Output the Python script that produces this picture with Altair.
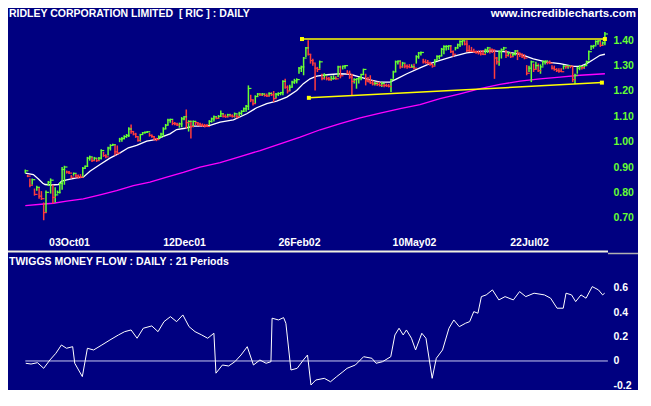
import altair as alt
import pandas as pd

# ---------------- data ----------------
title_text = "RIDLEY CORPORATION LIMITED\u00a0\u00a0[ RIC ] : DAILY"
site_text = "www.incrediblecharts.com"
mf_title = "TWIGGS MONEY FLOW : DAILY : 21 Periods"

date_tick_idx = [19, 69, 119, 169, 219]
date_tick_labels = ["03Oct01", "12Dec01", "26Feb02", "10May02", "22Jul02"]
price_ticks = [0.7, 0.8, 0.9, 1.0, 1.1, 1.2, 1.3, 1.4]
mf_ticks = [-0.2, 0, 0.2, 0.4, 0.6]

high = [
    .890, .870, .855, .855, .815, .826, .820, .805, .760, .807,
    .845, .855, .830, .820, .807, .840, .900, .905, .886, .884,
    .868, .878, .872, .870, .872, .900, .906, .940, .945, .940,
    .940, .935, .940, .970, .960, .950, .980, .990, .992, .990,
    .985, 1.015, 1.018, 1.025, 1.030, 1.057, 1.068, 1.040, 1.035, 1.018,
    1.031, 1.038, 1.040, 1.042, 1.035, 1.028, 1.022, 1.015, 1.025, 1.035,
    1.057, 1.070, 1.090, 1.090, 1.085, 1.078, 1.075, 1.075, 1.097, 1.100,
    1.127, 1.084, 1.084, 1.084, 1.082, 1.078, 1.075, 1.072, 1.070, 1.070,
    1.085, 1.095, 1.103, 1.100, 1.105, 1.123, 1.112, 1.108, 1.110, 1.110,
    1.108, 1.115, 1.108, 1.118, 1.124, 1.135, 1.145, 1.222, 1.185, 1.165,
    1.183, 1.192, 1.192, 1.192, 1.190, 1.190, 1.195, 1.195, 1.200, 1.192,
    1.195, 1.196, 1.242, 1.248, 1.222, 1.225, 1.240, 1.248, 1.250, 1.295,
    1.300, 1.334, 1.374, 1.400, 1.345, 1.327, 1.308, 1.295, 1.320, 1.268,
    1.270, 1.258, 1.255, 1.260, 1.262, 1.258, 1.300, 1.300, 1.300, 1.302,
    1.282, 1.280, 1.268, 1.250, 1.250, 1.255, 1.268, 1.288, 1.268, 1.255,
    1.262, 1.242, 1.235, 1.236, 1.235, 1.236, 1.228, 1.229, 1.228, 1.248,
    1.280, 1.320, 1.320, 1.320, 1.315, 1.308, 1.305, 1.306, 1.305, 1.307,
    1.341, 1.354, 1.356, 1.327, 1.325, 1.322, 1.315, 1.308, 1.325, 1.341,
    1.341, 1.370, 1.380, 1.380, 1.380, 1.380, 1.360, 1.374, 1.387, 1.400,
    1.400, 1.398, 1.400, 1.380, 1.374, 1.367, 1.360, 1.360, 1.360, 1.362,
    1.367, 1.374, 1.367, 1.364, 1.360, 1.334, 1.360, 1.368, 1.374, 1.362,
    1.355, 1.354, 1.350, 1.362, 1.362, 1.350, 1.348, 1.345, 1.302, 1.300,
    1.320, 1.308, 1.315, 1.308, 1.305, 1.320, 1.320, 1.320, 1.320, 1.302,
    1.300, 1.290, 1.290, 1.290, 1.302, 1.300, 1.302, 1.302, 1.295, 1.268,
    1.295, 1.302, 1.300, 1.302, 1.320, 1.360, 1.380, 1.382, 1.400, 1.400,
    1.400, 1.395, 1.433,
]
low = [
    .875, .860, .820, .830, .787, .806, .775, .770, .690, .720,
    .825, .795, .755, .760, .795, .795, .810, .830, .874, .872,
    .855, .866, .858, .855, .856, .860, .893, .900, .925, .920,
    .925, .920, .925, .930, .940, .935, .945, .965, .984, .945,
    .950, .998, 1.000, 1.010, 1.015, 1.018, 1.031, 1.025, 1.015, 1.000,
    1.000, 1.030, 1.032, 1.034, 1.020, 1.015, 1.005, 1.002, 1.010, 1.015,
    1.020, 1.050, 1.065, 1.075, 1.065, 1.065, 1.062, 1.055, 1.057, 1.085,
    1.052, 1.040, 1.013, 1.057, 1.065, 1.062, 1.060, 1.058, 1.056, 1.058,
    1.065, 1.075, 1.080, 1.088, 1.090, 1.097, 1.095, 1.094, 1.096, 1.098,
    1.095, 1.095, 1.092, 1.098, 1.104, 1.117, 1.118, 1.125, 1.156, 1.143,
    1.150, 1.178, 1.180, 1.180, 1.178, 1.176, 1.178, 1.180, 1.156, 1.172,
    1.180, 1.183, 1.183, 1.209, 1.190, 1.200, 1.215, 1.228, 1.230, 1.268,
    1.275, 1.262, 1.334, 1.340, 1.308, 1.300, 1.202, 1.275, 1.288, 1.242,
    1.245, 1.242, 1.240, 1.240, 1.245, 1.244, 1.255, 1.250, 1.285, 1.288,
    1.266, 1.248, 1.183, 1.230, 1.209, 1.230, 1.242, 1.262, 1.222, 1.235,
    1.228, 1.222, 1.222, 1.220, 1.218, 1.216, 1.215, 1.216, 1.214, 1.196,
    1.248, 1.275, 1.305, 1.288, 1.292, 1.290, 1.288, 1.290, 1.292, 1.285,
    1.308, 1.327, 1.340, 1.308, 1.308, 1.305, 1.300, 1.292, 1.300, 1.320,
    1.325, 1.338, 1.345, 1.360, 1.362, 1.350, 1.335, 1.360, 1.367, 1.374,
    1.380, 1.380, 1.354, 1.354, 1.354, 1.352, 1.347, 1.344, 1.340, 1.342,
    1.347, 1.350, 1.348, 1.350, 1.248, 1.305, 1.300, 1.328, 1.360, 1.330,
    1.336, 1.330, 1.335, 1.340, 1.322, 1.334, 1.330, 1.325, 1.262, 1.275,
    1.235, 1.275, 1.285, 1.275, 1.268, 1.300, 1.305, 1.305, 1.306, 1.285,
    1.280, 1.275, 1.272, 1.275, 1.285, 1.288, 1.288, 1.290, 1.235, 1.228,
    1.268, 1.282, 1.285, 1.288, 1.300, 1.320, 1.362, 1.367, 1.380, 1.382,
    1.374, 1.378, 1.380,
]
close = [
    .885, .864, .828, .850, .792, .820, .785, .775, .720, .800,
    .840, .848, .780, .790, .800, .835, .890, .900, .880, .876,
    .860, .875, .865, .862, .860, .895, .903, .935, .940, .925,
    .935, .925, .935, .965, .945, .940, .975, .985, .988, .960,
    .955, 1.010, 1.012, 1.020, 1.025, 1.050, 1.040, 1.030, 1.020, 1.005,
    1.028, 1.035, 1.037, 1.039, 1.025, 1.020, 1.012, 1.008, 1.020, 1.030,
    1.050, 1.065, 1.085, 1.088, 1.072, 1.070, 1.066, 1.070, 1.090, 1.098,
    1.075, 1.080, 1.060, 1.080, 1.075, 1.070, 1.066, 1.064, 1.062, 1.060,
    1.080, 1.090, 1.098, 1.092, 1.100, 1.110, 1.100, 1.098, 1.106, 1.102,
    1.100, 1.110, 1.098, 1.112, 1.120, 1.130, 1.140, 1.210, 1.165, 1.150,
    1.178, 1.188, 1.185, 1.188, 1.182, 1.180, 1.190, 1.185, 1.170, 1.188,
    1.190, 1.194, 1.238, 1.215, 1.200, 1.215, 1.235, 1.240, 1.245, 1.290,
    1.295, 1.330, 1.370, 1.345, 1.320, 1.310, 1.290, 1.285, 1.315, 1.250,
    1.262, 1.248, 1.245, 1.248, 1.250, 1.248, 1.295, 1.260, 1.298, 1.300,
    1.270, 1.255, 1.238, 1.245, 1.248, 1.252, 1.265, 1.285, 1.240, 1.236,
    1.232, 1.228, 1.230, 1.226, 1.222, 1.230, 1.222, 1.220, 1.218, 1.245,
    1.275, 1.315, 1.318, 1.295, 1.310, 1.298, 1.296, 1.293, 1.295, 1.290,
    1.335, 1.350, 1.352, 1.315, 1.312, 1.310, 1.305, 1.298, 1.322, 1.336,
    1.338, 1.365, 1.375, 1.376, 1.378, 1.355, 1.345, 1.370, 1.382, 1.395,
    1.398, 1.385, 1.360, 1.358, 1.356, 1.355, 1.352, 1.350, 1.346, 1.344,
    1.362, 1.370, 1.365, 1.362, 1.330, 1.315, 1.355, 1.362, 1.370, 1.340,
    1.350, 1.335, 1.345, 1.358, 1.350, 1.345, 1.335, 1.330, 1.270, 1.290,
    1.315, 1.285, 1.300, 1.280, 1.295, 1.315, 1.318, 1.312, 1.310, 1.290,
    1.285, 1.280, 1.278, 1.276, 1.298, 1.296, 1.300, 1.298, 1.245, 1.262,
    1.290, 1.296, 1.292, 1.300, 1.316, 1.355, 1.376, 1.378, 1.395, 1.398,
    1.380, 1.390, 1.425,
]

# short moving average (white), read at sample bars
ma_short_idx = [0, 3.5, 5.7, 7.6, 8.6, 11.5, 14.4, 15.8, 18, 22.3, 25.2, 28.1, 32.5,
                36.8, 41.2, 44.8, 48.4, 52.8, 57.1, 60, 62.9, 65.8, 69.4, 73, 77.4,
                80.3, 84.7, 90.5, 96.3, 100.6, 105, 109.3, 113.7, 118, 120.9, 123.8,
                126.7, 131.1, 136.9, 141.2, 145.6, 149.9, 154.3, 158.6, 161.5, 165.9,
                171.6, 175.9, 180.3, 186.1, 191.9, 197.7, 203.5, 209.3, 215.1, 220.9,
                226.7, 232.5, 238.3, 241.2, 244.1, 247, 249.9, 252]
ma_short_val = [0.876, 0.870, 0.853, 0.836, 0.831, 0.829, 0.831, 0.844, 0.849, 0.857,
                0.860, 0.883, 0.910, 0.935, 0.956, 0.976, 0.985, 1.002, 1.009, 1.021,
                1.031, 1.048, 1.053, 1.061, 1.061, 1.064, 1.077, 1.086, 1.110, 1.134,
                1.150, 1.160, 1.176, 1.202, 1.229, 1.248, 1.259, 1.264, 1.268, 1.266,
                1.255, 1.244, 1.235, 1.235, 1.248, 1.268, 1.291, 1.308, 1.321, 1.337,
                1.350, 1.356, 1.358, 1.354, 1.345, 1.327, 1.314, 1.308, 1.297, 1.297,
                1.308, 1.324, 1.341, 1.345]

# long moving average (magenta)
ma_long_idx = [0, 8, 12.2, 18, 25.2, 32.5, 39.7, 47, 54.2, 61.5, 68.7, 76, 84.7, 93.4,
               102.1, 110.8, 119.5, 128.2, 136.9, 145.6, 154.3, 163, 171.6, 180.3, 189,
               197.7, 206.4, 215.1, 223.8, 232.5, 241.2, 252]
ma_long_val = [0.748, 0.754, 0.757, 0.765, 0.774, 0.790, 0.807, 0.827, 0.840, 0.860,
               0.879, 0.900, 0.917, 0.941, 0.965, 0.991, 1.018, 1.047, 1.071, 1.094,
               1.113, 1.130, 1.146, 1.170, 1.189, 1.209, 1.226, 1.239, 1.248, 1.255,
               1.262, 1.268]

# trend lines (yellow)
trend_id = ["upper", "upper", "lower", "lower"]
trend_idx = [120.3, 252.0, 123.3, 250.7]
trend_price = [1.405, 1.405, 1.173, 1.233]

# Twiggs money flow
mf_idx = [0.2, 2.5, 5.3, 8, 10.7, 13.3, 15.7, 17.9, 20.6, 21.5, 24.8, 27, 29.7, 33.3,
          36.8, 40.5, 43.2, 46, 48.6, 51.3, 55, 57.7, 60.3, 63.1, 65.8, 68.5, 71.2,
          73.8, 76.7, 79.3, 82, 82.9, 85.7, 88.4, 91.1, 93.8, 96.5, 99.2, 102, 104.7,
          106.8, 107.3, 110.1, 112.3, 113.3, 115.5, 118.2, 120.9, 122.7, 124.2, 126.3,
          130, 132.7, 135.4, 138.1, 139.9, 143.5, 147.1, 150.7, 152.5, 155.3, 158.9,
          160.7, 162.5, 164.3, 165.7, 167.9, 169.7, 172.4, 174.2, 176.9, 178.7, 181.4,
          184.2, 186.3, 188.7, 191.4, 193.2, 195, 196.8, 198.3, 200.4, 203.1, 205.9,
          208.6, 212.2, 214.9, 217.6, 221.2, 225.7, 228.4, 231.2, 233.9, 235.1, 237.5,
          239.3, 241.6, 243.8, 246.5, 249.2, 251, 251.9]
mf_val = [-0.019, -0.025, -0.014, -0.06, 0.008, 0.063, 0.131, 0.104, 0.117, -0.019,
          -0.128, 0.104, 0.09, 0.131, 0.172, 0.213, 0.24, 0.254, 0.186, 0.268, 0.287,
          0.24, 0.322, 0.363, 0.322, 0.377, 0.281, 0.24, 0.213, 0.186, 0.227, -0.1,
          -0.033, -0.041, -0.006, 0.049, 0.117, -0.033, 0.008, -0.019, -0.006, 0.35,
          0.336, 0.355, 0.309, -0.074, -0.06, 0.008, 0.049, -0.197, -0.156, -0.142,
          -0.17, -0.128, -0.088, -0.06, -0.033, 0.035, 0.022, -0.019, -0.006, 0.035,
          0.213, 0.268, 0.213, 0.254, 0.186, 0.09, 0.227, 0.186, -0.142, 0.022, 0.09,
          0.268, 0.336, 0.281, 0.309, 0.322, 0.404, 0.391, 0.527, 0.541, 0.582, 0.5,
          0.527, 0.5, 0.568, 0.527, 0.555, 0.541, 0.514, 0.432, 0.432, 0.555, 0.541,
          0.486, 0.541, 0.514, 0.609, 0.582, 0.541, 0.555]
zero_span = [0, 253.3]

# ---------------- styling ----------------
BG = "#000080"
GREEN = "#66FF33"
RED = "#FF3C3C"
YELLOW = "#FFFF00"
MAGENTA = "#FF00FF"
FONT = "Liberation Sans"
FS = 10.5

n = len(close)
prev = [close[0]] + close[:-1]
bars = pd.DataFrame({
    "i": list(range(n)), "high": high, "low": low, "close": close,
    "dir": ["up" if c >= p else "down" for c, p in zip(close, prev)],
})
short_df = pd.DataFrame({"i": ma_short_idx, "v": ma_short_val})
long_df = pd.DataFrame({"i": ma_long_idx, "v": ma_long_val})
trend_df = pd.DataFrame({"id": trend_id, "i": trend_idx, "p": trend_price})
mf_df = pd.DataFrame({"i": mf_idx, "v": mf_val})
zero_df = pd.DataFrame({"x0": [zero_span[0]], "x1": [zero_span[1]], "y": [0.0]})

xscale = alt.Scale(domain=[-1.435, 253.35], nice=False, zero=False)
label_expr = " : ".join(
    f"datum.value == {v} ? '{t}'" for v, t in zip(date_tick_idx, date_tick_labels)
) + " : ''"
xaxis = alt.Axis(values=date_tick_idx, labelExpr=label_expr, orient="bottom",
                 offset=-145, ticks=False, domain=False, grid=False, labelPadding=0,
                 labelBaseline="alphabetic", labelColor="white", labelFont=FONT,
                 labelFontWeight="bold", labelFontSize=FS, labelOverlap=False,
                 labelFlush=False, labelBound=False, title=None)

pscale = alt.Scale(domain=[0.7, 1.4], range=[187.7, 10.3], nice=False, zero=False)
paxis = alt.Axis(values=price_ticks, format=".2f", orient="right", ticks=False,
                 domain=False, grid=False, labelPadding=5, labelAlign="left",
                 labelBaseline="middle", labelColor=GREEN, labelFont=FONT,
                 labelFontWeight="bold", labelFontSize=FS, labelOverlap=False,
                 labelBound=False, labelFlush=False, title=None)

mfscale = alt.Scale(domain=[-0.2, 0.6], range=[355.4, 257.7], nice=False, zero=False)
mfaxis = alt.Axis(values=mf_ticks,
                  labelExpr="datum.value == 0 ? '0' : (datum.value < 0 ? '-' + format(-datum.value, '.1f') : format(datum.value, '.1f'))",
                  orient="right", ticks=False, domain=False, grid=False, labelPadding=5,
                  labelAlign="left", labelBaseline="middle", labelColor="white",
                  labelFont=FONT, labelFontWeight="bold", labelFontSize=FS,
                  labelOverlap=False, labelBound=False, labelFlush=False, title=None)

X = lambda f: alt.X(f, scale=xscale, axis=xaxis)
YP = lambda f: alt.Y(f, scale=pscale, axis=paxis)
YM = lambda f: alt.Y(f, scale=mfscale, axis=mfaxis)
cscale = alt.Scale(domain=["up", "down"], range=[GREEN, RED])

long_line = alt.Chart(long_df).mark_line(color=MAGENTA, strokeWidth=1.3).encode(
    x=X("i:Q"), y=YP("v:Q"))
short_line = alt.Chart(short_df).mark_line(color="white", strokeWidth=1.3).encode(
    x=X("i:Q"), y=YP("v:Q"))
bar_rule = alt.Chart(bars).mark_rule(strokeWidth=1.5).encode(
    x=X("i:Q"), y=YP("low:Q"), y2="high:Q",
    color=alt.Color("dir:N", scale=cscale, legend=None))
bar_close = alt.Chart(bars).mark_tick(orient="horizontal", size=3.5, thickness=1.2,
                                      xOffset=1.3, opacity=1).encode(
    x=X("i:Q"), y=YP("close:Q"),
    color=alt.Color("dir:N", scale=cscale, legend=None))
trend = alt.Chart(trend_df).mark_line(color=YELLOW, strokeWidth=1.5).encode(
    x=X("i:Q"), y=YP("p:Q"), detail="id:N")
marks = alt.Chart(trend_df).mark_square(color=YELLOW, size=16, opacity=1).encode(
    x=X("i:Q"), y=YP("p:Q"))

price = alt.layer(long_line, short_line, bar_rule, bar_close, trend, marks)

zero = alt.Chart(zero_df).mark_rule(color="#C8C8F0", strokeWidth=1).encode(
    x=X("x0:Q"), x2="x1:Q", y=YM("y:Q"))
mf_line = alt.Chart(mf_df).mark_line(color="white", strokeWidth=1).encode(
    x=X("i:Q"), y=YM("v:Q"))
mf = alt.layer(zero, mf_line)

sep_white = alt.Chart(pd.DataFrame({"a": [0]})).mark_rule(
    color="#F0F0E0", strokeWidth=2).encode(
    x=alt.value(-14), x2=alt.value(586), y=alt.value(221.5))
sep_gray = alt.Chart(pd.DataFrame({"a": [0]})).mark_rule(
    color="#B0B0B0", strokeWidth=1.5).encode(
    x=alt.value(586), x2=alt.value(616), y=alt.value(223.5))


def label(text, x, y, align="left", size=FS):
    return alt.Chart(pd.DataFrame({"t": [text]})).mark_text(
        align=align, baseline="alphabetic", color="white", font=FONT,
        fontWeight="bold", fontSize=size).encode(
        text="t:N", x=alt.value(x), y=alt.value(y))


header = label(title_text, -13, -13)
site = label(site_text, 614, -13, align="right", size=11.5)
mf_head = label(mf_title, -13, 235)

chart = alt.layer(price, mf, sep_white, sep_gray, header, site, mf_head).resolve_scale(
    y="independent"
).properties(
    width=586, height=360,
    padding={"left": 14, "top": 22, "right": 30, "bottom": 0},
    autosize=alt.AutoSizeParams(type="none"),
).configure(background=BG).configure_view(stroke=None)

chart.save("out.html", embed_options={"renderer": "svg", "actions": False})
